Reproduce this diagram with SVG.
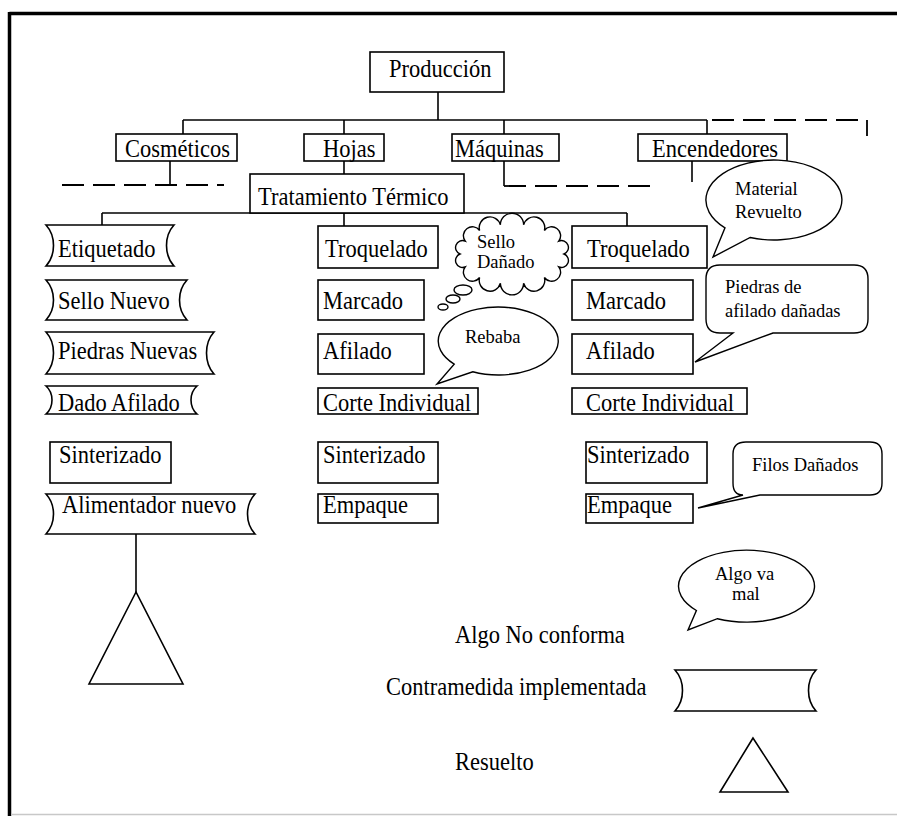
<svg xmlns="http://www.w3.org/2000/svg" width="897" height="816" viewBox="0 0 897 816">
  <style>
    .box { fill: #fff; stroke: #000; stroke-width: 1.6; }
    .scroll { fill: #fff; stroke: #000; stroke-width: 1.6; stroke-linejoin: miter; }
    .call { fill: #fff; stroke: #000; stroke-width: 1.4; stroke-linejoin: miter; }
    .wire { fill: none; stroke: #000; stroke-width: 1.6; }
    .dash { fill: none; stroke: #000; stroke-width: 1.8; stroke-dasharray: 22 9; }
    .lbl { font-family: "Liberation Serif", "Times New Roman", serif; font-size: 22.5px; fill: #000; }
    .note { font-family: "Liberation Serif", "Times New Roman", serif; font-size: 18.5px; fill: #000; }
  </style>

  <rect x="0" y="0" width="897" height="816" fill="#fff"/>

  <!-- page frame -->
  <g id="frame">
    <line x1="9.5" y1="13.5" x2="897" y2="13.5" stroke="#000" stroke-width="3.5"/>
    <line x1="9.5" y1="12" x2="9.5" y2="816" stroke="#000" stroke-width="3.5"/>
    <line x1="11" y1="814.5" x2="897" y2="814.5" stroke="#c8c8c8" stroke-width="1.5"/>
  </g>

  <!-- connectors -->
  <g id="connectors">
    <line class="wire" x1="438" y1="92" x2="438" y2="120"/>
    <line class="wire" x1="183" y1="120" x2="707" y2="120"/>
    <line class="wire" x1="183" y1="120" x2="183" y2="134"/>
    <line class="wire" x1="344" y1="120" x2="344" y2="134"/>
    <line class="wire" x1="504" y1="120" x2="504" y2="134"/>
    <line class="wire" x1="707" y1="120" x2="707" y2="134"/>
    <polyline class="dash" points="712,120 867,120 867,136"/>
    <line class="wire" x1="344" y1="161" x2="344" y2="174"/>
    <line class="wire" x1="170" y1="161" x2="170" y2="185"/>
    <line class="dash" x1="62" y1="185" x2="224" y2="185"/>
    <line class="wire" x1="504" y1="161" x2="504" y2="186"/>
    <line class="dash" x1="504" y1="186" x2="651" y2="186"/>
    <line class="wire" x1="692" y1="161" x2="692" y2="182"/>
    <line class="wire" x1="102" y1="213" x2="627" y2="213"/>
    <line class="wire" x1="102" y1="213" x2="102" y2="225"/>
    <line class="wire" x1="344" y1="213" x2="344" y2="226"/>
    <line class="wire" x1="627" y1="213" x2="627" y2="226"/>
    <line class="wire" x1="136" y1="534" x2="136" y2="592"/>
  </g>

  <!-- top levels (labels stretched slightly upward from their baseline) -->
  <g id="produccion"><rect class="box" x="370" y="52" width="134" height="40"/><text class="lbl" x="389" y="77" transform="matrix(1 0 0 1.12 0 -9.24)">Producción</text></g>
  <g id="cosmeticos"><rect class="box" x="116" y="134" width="121" height="27"/><text class="lbl" x="125" y="157" transform="matrix(1 0 0 1.12 0 -18.84)">Cosméticos</text></g>
  <g id="hojas"><rect class="box" x="304" y="134" width="80" height="27"/><text class="lbl" x="323" y="157" transform="matrix(1 0 0 1.12 0 -18.84)">Hojas</text></g>
  <g id="maquinas"><rect class="box" x="452" y="134" width="107" height="27"/><text class="lbl" x="455" y="157" transform="matrix(1 0 0 1.12 0 -18.84)">Máquinas</text></g>
  <g id="encendedores"><rect class="box" x="638" y="134" width="149" height="27"/><text class="lbl" x="652" y="157" transform="matrix(1 0 0 1.12 0 -18.84)">Encendedores</text></g>
  <g id="tratamiento"><rect class="box" x="250" y="174" width="214" height="39"/><text class="lbl" x="258" y="205" transform="matrix(1 0 0 1.12 0 -24.6)">Tratamiento Térmico</text></g>

  <!-- countermeasures (left column) -->
  <g id="etiquetado"><path class="scroll" d="M46,225 H174 C164,236 164,255 174,266 H46 C56,255 56,236 46,225 Z"/><text class="lbl" x="58" y="257" transform="matrix(1 0 0 1.12 0 -30.84)">Etiquetado</text></g>
  <g id="sello-nuevo"><path class="scroll" d="M46,280 H187 C177,291 177,309 187,320 H46 C56,309 56,291 46,280 Z"/><text class="lbl" x="58" y="309" transform="matrix(1 0 0 1.12 0 -37.08)">Sello Nuevo</text></g>
  <g id="piedras-nuevas"><path class="scroll" d="M46,332 H214 C204,343 204,363 214,374 H46 C56,363 56,343 46,332 Z"/><text class="lbl" x="58" y="359" transform="matrix(1 0 0 1.12 0 -43.08)">Piedras Nuevas</text></g>
  <g id="dado-afilado"><path class="scroll" d="M46,386 H197 C189,393 189,407 197,414 H46 C54,407 54,393 46,386 Z"/><text class="lbl" x="58" y="411" transform="matrix(1 0 0 1.12 0 -49.32)">Dado Afilado</text></g>
  <g id="sinterizado-1"><rect class="box" x="50" y="442" width="121" height="41"/><text class="lbl" x="59" y="463" transform="matrix(1 0 0 1.12 0 -55.56)">Sinterizado</text></g>
  <g id="alimentador"><path class="scroll" d="M46,494 H255 C245,505 245,523 255,534 H46 C56,523 56,505 46,494 Z"/><text class="lbl" x="62" y="513" transform="matrix(1 0 0 1.12 0 -61.56)">Alimentador nuevo</text></g>
  <g id="resuelto-1"><polygon class="box" points="136,592 89,684 183,684"/></g>

  <!-- middle column -->
  <g id="troquelado-2"><rect class="box" x="318" y="226" width="120" height="42"/><text class="lbl" x="325" y="257" transform="matrix(1 0 0 1.12 0 -30.84)">Troquelado</text></g>
  <g id="marcado-2"><rect class="box" x="318" y="280" width="106" height="40"/><text class="lbl" x="323" y="309" transform="matrix(1 0 0 1.12 0 -37.08)">Marcado</text></g>
  <g id="afilado-2"><rect class="box" x="318" y="334" width="106" height="40"/><text class="lbl" x="323" y="359" transform="matrix(1 0 0 1.12 0 -43.08)">Afilado</text></g>
  <g id="corte-2"><rect class="box" x="318" y="388" width="160" height="26"/><text class="lbl" x="323" y="411" transform="matrix(1 0 0 1.12 0 -49.32)">Corte Individual</text></g>
  <g id="sinterizado-2"><rect class="box" x="318" y="442" width="120" height="41"/><text class="lbl" x="323" y="463" transform="matrix(1 0 0 1.12 0 -55.56)">Sinterizado</text></g>
  <g id="empaque-2"><rect class="box" x="318" y="494" width="120" height="29"/><text class="lbl" x="323" y="513" transform="matrix(1 0 0 1.12 0 -61.56)">Empaque</text></g>

  <!-- right column -->
  <g id="troquelado-3"><rect class="box" x="572" y="226" width="135" height="42"/><text class="lbl" x="587" y="257" transform="matrix(1 0 0 1.12 0 -30.84)">Troquelado</text></g>
  <g id="marcado-3"><rect class="box" x="572" y="280" width="121" height="40"/><text class="lbl" x="586" y="309" transform="matrix(1 0 0 1.12 0 -37.08)">Marcado</text></g>
  <g id="afilado-3"><rect class="box" x="572" y="334" width="121" height="40"/><text class="lbl" x="586" y="359" transform="matrix(1 0 0 1.12 0 -43.08)">Afilado</text></g>
  <g id="corte-3"><rect class="box" x="572" y="388" width="175" height="26"/><text class="lbl" x="586" y="411" transform="matrix(1 0 0 1.12 0 -49.32)">Corte Individual</text></g>
  <g id="sinterizado-3"><rect class="box" x="586" y="442" width="121" height="41"/><text class="lbl" x="587" y="463" transform="matrix(1 0 0 1.12 0 -55.56)">Sinterizado</text></g>
  <g id="empaque-3"><rect class="box" x="586" y="494" width="107" height="29"/><text class="lbl" x="587" y="513" transform="matrix(1 0 0 1.12 0 -61.56)">Empaque</text></g>

  <!-- problem callouts -->
  <g id="sello-danado">
    <path class="call" d="M564,254 A1 1 0 0 1 558.9,267 A1 1 0 0 1 544.4,277.5 A1 1 0 0 1 523.6,283.3 A1 1 0 0 1 500.4,283.3 A1 1 0 0 1 479.6,277.5 A1 1 0 0 1 465.1,267 A1 1 0 0 1 460,254 A1 1 0 0 1 465.1,241 A1 1 0 0 1 479.6,230.5 A1 1 0 0 1 500.4,224.8 A1 1 0 0 1 523.6,224.8 A1 1 0 0 1 544.4,230.5 A1 1 0 0 1 558.9,241 A1 1 0 0 1 564,254 Z"/>
    <ellipse class="call" cx="463" cy="290" rx="9" ry="5"/>
    <ellipse class="call" cx="453" cy="299" rx="7" ry="4"/>
    <ellipse class="call" cx="443" cy="307" rx="5" ry="3"/>
    <text class="note" x="477" y="248">Sello</text>
    <text class="note" x="477" y="268">Dañado</text>
  </g>
  <g id="rebaba">
    <path class="call" d="M472.8,371.8 A60 34 0 1 0 454.2,364.1 L437,384 Z"/>
    <text class="note" x="465" y="343">Rebaba</text>
  </g>
  <g id="material-revuelto">
    <path class="call" d="M750.2,237.5 A68 40 0 1 0 725,227.8 L713,257 Z"/>
    <text class="note" x="735" y="195">Material</text>
    <text class="note" x="735" y="218">Revuelto</text>
  </g>
  <g id="piedras-danadas">
    <path class="call" d="M720,265 H854 Q868,265 868,279 V319 Q868,333 854,333 H773 L695,362 L733,333 H720 Q706,333 706,319 V279 Q706,265 720,265 Z"/>
    <text class="note" x="725" y="293">Piedras de</text>
    <text class="note" x="725" y="317">afilado dañadas</text>
  </g>
  <g id="filos-danados">
    <path class="call" d="M746,442 H870 Q882,442 882,454 V483 Q882,495 870,495 H760 L698,508 L743,495 Q733,495 733,483 V454 Q733,442 746,442 Z"/>
    <text class="note" x="752" y="471">Filos Dañados</text>
  </g>

  <!-- legend -->
  <g id="legend-no-conforma">
    <path class="call" d="M717.4,618.7 A68 36 0 1 0 696.4,610.5 L688,630 Z"/>
    <text class="note" x="715" y="580">Algo va</text>
    <text class="note" x="732" y="600">mal</text>
    <text class="lbl" x="455" y="643" transform="matrix(1 0 0 1.12 0 -77.16)">Algo No conforma</text>
  </g>
  <g id="legend-contramedida">
    <path class="scroll" d="M675,670 H816 C806,681 806,700 816,711 H675 C685,700 685,681 675,670 Z"/>
    <text class="lbl" x="386" y="695" transform="matrix(1 0 0 1.12 0 -83.4)">Contramedida implementada</text>
  </g>
  <g id="legend-resuelto">
    <polygon class="box" points="753,738 720,792 788,792"/>
    <text class="lbl" x="455" y="770" transform="matrix(1 0 0 1.12 0 -92.4)">Resuelto</text>
  </g>
</svg>
